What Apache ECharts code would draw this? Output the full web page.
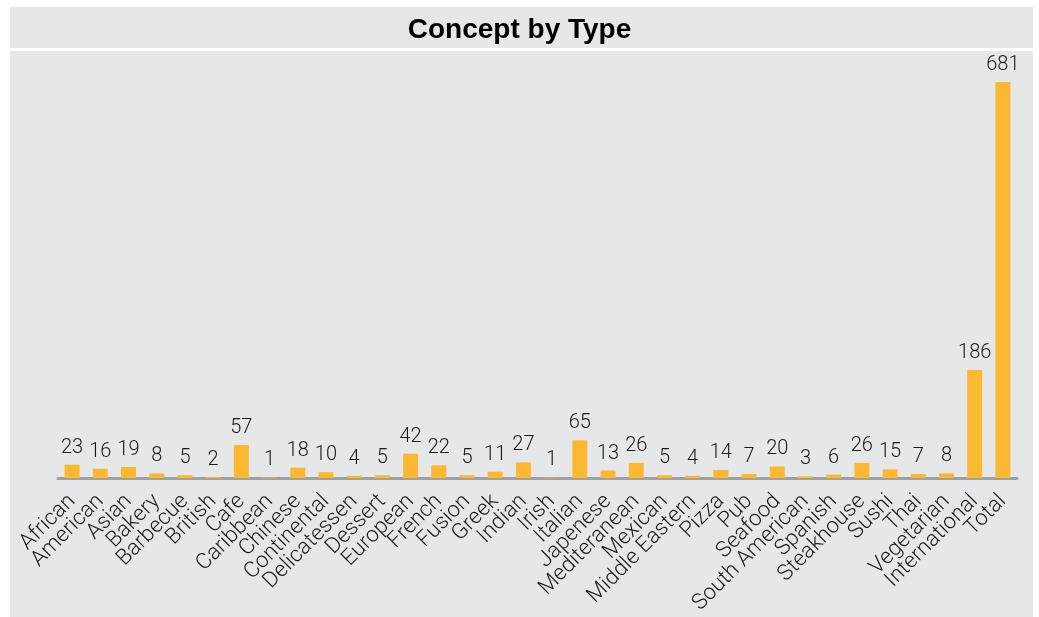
<!DOCTYPE html>
<html>
<head>
<meta charset="utf-8">
<title>Concept by Type</title>
<script src="https://cdn.jsdelivr.net/npm/echarts@6/dist/echarts.min.js"></script>
<style>
  html, body { margin: 0; padding: 0; background: #ffffff; }
  #main { width: 1039px; height: 617px; }
</style>
</head>
<body>
<div id="main"></div>
<script>
// categories (x axis)
var conceptTypes = ['African', 'American', 'Asian', 'Bakery', 'Barbecue', 'British', 'Cafe',
    'Caribbean', 'Chinese', 'Continental', 'Delicatessen', 'Dessert', 'European', 'French',
    'Fusion', 'Greek', 'Indian', 'Irish', 'Italian', 'Japenese', 'Mediteranean', 'Mexican',
    'Middle Eastern', 'Pizza', 'Pub', 'Seafood', 'South American', 'Spanish', 'Steakhouse',
    'Sushi', 'Thai', 'Vegetarian', 'International', 'Total'];
// count per concept
var conceptCounts = [23, 16, 19, 8, 5, 2, 57, 1, 18, 10, 4, 5, 42, 22, 5, 11, 27, 1, 65, 13,
    26, 5, 4, 14, 7, 20, 3, 6, 26, 15, 7, 8, 186, 681];

var panelColor = '#e6e7e9';
var barColor = '#fdb833';
var textFont = 'Roboto, "Liberation Sans", sans-serif';

var conceptChart = echarts.init(document.getElementById('main'), null, {renderer: 'canvas'});

option = {
    backgroundColor: '#ffffff',
    animation: false,
    graphic: [
        // title panel
        {type: 'rect', z: -10, shape: {x: 10, y: 7, width: 1023, height: 41}, style: {fill: panelColor}},
        // plot panel
        {type: 'rect', z: -10, shape: {x: 10, y: 51, width: 1023, height: 566}, style: {fill: panelColor}}
    ],
    title: {
        text: 'Concept by Type',
        left: 'center',
        top: 11,
        textStyle: {
            fontFamily: '"Liberation Sans", Arial, sans-serif',
            fontWeight: 'bold',
            fontSize: 28,
            color: '#000000'
        }
    },
    grid: {
        left: 58,
        right: 22,
        top: 82,
        bottom: 138,
        containLabel: false
    },
    xAxis: {
        type: 'category',
        data: conceptTypes,
        offset: 2,
        axisLine: {show: true, lineStyle: {color: '#a0a0a0', width: 3}},
        axisTick: {show: false},
        axisLabel: {
            interval: 0,
            rotate: 45,
            margin: 18,
            fontFamily: textFont,
            fontWeight: 300,
            fontSize: 22,
            color: '#1a1a1a'
        },
        splitLine: {show: false}
    },
    yAxis: {
        type: 'value',
        min: 0,
        max: 681,
        show: false
    },
    series: [
        {
            name: 'Count',
            type: 'bar',
            data: conceptCounts,
            barWidth: 15,
            itemStyle: {color: barColor},
            label: {
                show: true,
                position: 'top',
                distance: 7,
                fontFamily: textFont,
                fontWeight: 300,
                fontSize: 20,
                color: '#1a1a1a'
            }
        }
    ]
};
conceptChart.setOption(option);
</script>
</body>
</html>
